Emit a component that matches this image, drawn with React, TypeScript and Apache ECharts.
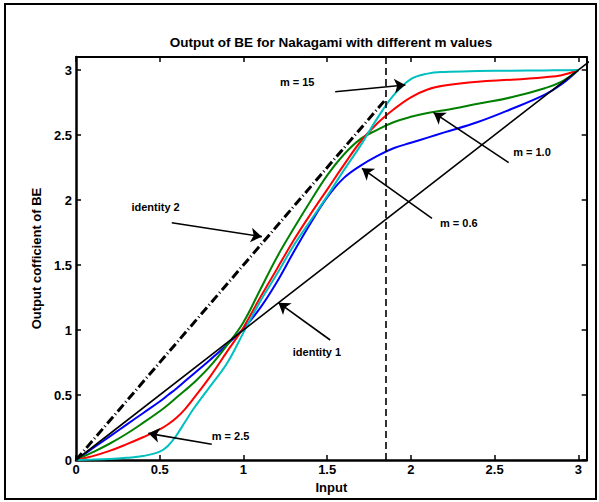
import React, { useEffect, useRef } from 'react';
import * as echarts from 'echarts';

// Shared input grid (x values)
const X = [0, 0.1, 0.2, 0.3, 0.4, 0.5, 0.55, 0.6, 0.65, 0.7, 0.8, 0.9, 1.0, 1.1, 1.2, 1.3, 1.4, 1.5, 1.6, 1.7, 1.8, 1.9, 2.0, 2.1, 2.2, 2.4, 2.6, 2.8, 2.9, 3.0];

// Output coefficient curves
const M06 = [0, 0.09, 0.18, 0.27, 0.36, 0.45, 0.5, 0.55, 0.605, 0.66, 0.77, 0.885, 1.01, 1.17, 1.37, 1.6, 1.82, 2.02, 2.17, 2.265, 2.34, 2.4, 2.44, 2.48, 2.52, 2.6, 2.7, 2.81, 2.89, 3.0];
const M10 = [0, 0.06, 0.125, 0.2, 0.285, 0.375, 0.425, 0.48, 0.535, 0.59, 0.72, 0.88, 1.06, 1.31, 1.56, 1.78, 1.99, 2.19, 2.35, 2.47, 2.54, 2.6, 2.64, 2.67, 2.69, 2.74, 2.79, 2.86, 2.91, 3.0];
const M25 = [0, 0.03, 0.07, 0.12, 0.175, 0.235, 0.275, 0.325, 0.39, 0.47, 0.64, 0.83, 1.02, 1.25, 1.47, 1.69, 1.89, 2.08, 2.27, 2.45, 2.59, 2.7, 2.79, 2.85, 2.88, 2.91, 2.925, 2.945, 2.96, 3.0];
const M15 = [0, 0.003, 0.008, 0.017, 0.03, 0.064, 0.11, 0.19, 0.29, 0.39, 0.565, 0.74, 0.98, 1.22, 1.43, 1.65, 1.84, 2.03, 2.23, 2.42, 2.63, 2.81, 2.93, 2.972, 2.985, 2.992, 2.995, 2.997, 2.998, 3.0];

// Reference lines
const IDENTITY1 = [[0, 0], [3.1, 3.1]];
const IDENTITY2 = [[0, 0], [1.85, 2.775]];
const VLINE_X = 1.85;

// Annotation arrows: [x1, y1, x2, y2] (arrow head at x2,y2)
const ARROWS = [
  [1.548, 2.833, 1.967, 2.885],
  [0.572, 1.825, 1.11, 1.718],
  [1.518, 0.923, 1.209, 1.21],
  [2.126, 1.859, 1.708, 2.244],
  [2.584, 2.287, 2.136, 2.672],
  [0.811, 0.121, 0.432, 0.205],
];
const LABEL_TEXT = ['m = 15', 'identity 2', 'identity 1', 'm = 0.6', 'm = 1.0', 'm = 2.5'];
const LABEL_POS = [
  [1.321, 2.908],
  [0.475, 1.948],
  [1.439, 0.828],
  [2.286, 1.823],
  [2.723, 2.372],
  [0.923, 0.187],
];

const TICKS = ['0', '0.5', '1', '1.5', '2', '2.5', '3'];

const FONT = '"Liberation Sans", Arial, Helvetica, sans-serif';

export default function App() {
  const ref = useRef<HTMLDivElement>(null);
  useEffect(() => {
    if (!ref.current) return;
    const chart = echarts.init(ref.current, null, { renderer: 'svg' });
    const fmt = (v: number) => {
      const s = String(Math.round(v * 100) / 100);
      return TICKS.indexOf(s) >= 0 ? s : '';
    };
    const labelStyle = { color: '#000', fontSize: 13, fontWeight: 'bold', fontFamily: FONT };
    const mkX = (pos: string, main: boolean) => ({
      type: 'value', min: 0, max: 3.05, interval: 0.5, position: pos,
      name: main ? 'Input' : '', nameLocation: 'middle', nameGap: 20,
      nameTextStyle: { ...labelStyle, fontSize: 13 },
      axisLine: { show: true, onZero: false, lineStyle: { color: '#000', width: main ? 2.5 : 2 } },
      axisTick: { show: true, inside: true, length: 5, lineStyle: { color: '#000', width: 1.5 } },
      axisLabel: { show: main, formatter: fmt, margin: 3, ...labelStyle },
      splitLine: { show: false },
    });
    const mkY = (pos: string, main: boolean) => ({
      type: 'value', min: 0, max: 3.1, interval: 0.5, position: pos,
      name: main ? 'Output cofficient of BE' : '', nameLocation: 'middle', nameGap: 30,
      nameTextStyle: { ...labelStyle, fontSize: 13 },
      axisLine: { show: true, onZero: false, lineStyle: { color: '#000', width: main ? 2.5 : 2 } },
      axisTick: { show: true, inside: true, length: 5, lineStyle: { color: '#000', width: 1.5 } },
      axisLabel: { show: main, formatter: fmt, margin: 4, ...labelStyle },
      splitLine: { show: false },
    });
    const curve = (name: string, ys: number[], color: string) => ({
      name, type: 'line', data: X.map((x, i) => [x, ys[i]]),
      showSymbol: false, symbol: 'none', smooth: 0.4,
      lineStyle: { color, width: 2 }, itemStyle: { color }, z: 3,
    });
    chart.setOption({
      animation: false,
      backgroundColor: '#ffffff',
      grid: { left: 76, top: 57, width: 510.7, height: 403, containLabel: false },
      xAxis: [mkX('bottom', true), mkX('top', false)],
      yAxis: [mkY('left', true), mkY('right', false)],
      graphic: [
        {
          type: 'rect', silent: true, z: 0,
          shape: { x: 5, y: 4, width: 591, height: 495 },
          style: { fill: 'none', stroke: '#000', lineWidth: 2 },
        },
        {
          type: 'text', x: 331, y: 42, silent: true,
          style: {
            text: 'Output of BE for Nakagami with different m values',
            fill: '#000', font: `bold 13.5px ${FONT}`, textAlign: 'center', textVerticalAlign: 'middle',
          },
        },
      ],
      series: [
        curve('m = 0.6', M06, '#0000ff'),
        curve('m = 1.0', M10, '#008000'),
        curve('m = 2.5', M25, '#ff0000'),
        curve('m = 15', M15, '#00bfbf'),
        {
          name: 'identity 1', type: 'line', data: IDENTITY1, showSymbol: false, symbol: 'none',
          lineStyle: { color: '#000', width: 1.6 }, z: 4,
          markLine: {
            silent: true, symbol: ['none', 'arrow'], symbolSize: 11, animation: false,
            lineStyle: { color: '#000', width: 1.6, type: 'solid' },
            label: { show: false },
            data: ARROWS.map((a) => [{ coord: [a[0], a[1]] }, { coord: [a[2], a[3]] }]),
          },
          markPoint: {
            silent: true, symbol: 'circle', symbolSize: 1, animation: false,
            itemStyle: { color: 'rgba(0,0,0,0)' },
            label: { show: true, position: 'inside', formatter: '{b}', color: '#000', fontSize: 11, fontWeight: 'bold', fontFamily: FONT },
            data: LABEL_TEXT.map((t, i) => ({ name: t, coord: LABEL_POS[i] })),
          },
        },
        {
          name: 'identity 2', type: 'line', data: IDENTITY2, showSymbol: false, symbol: 'none',
          lineStyle: { color: '#000', width: 3, type: [9, 3, 1, 3] }, z: 4,
          markLine: {
            silent: true, symbol: ['none', 'none'], animation: false,
            lineStyle: { color: '#000', width: 1.6, type: [7, 4] },
            label: { show: false },
            data: [{ xAxis: VLINE_X }],
          },
        },
      ],
    });
    return () => chart.dispose();
  }, []);
  return <div ref={ref} style={{ position: 'absolute', left: 0, top: 0, width: 599, height: 502 }} />;
}
